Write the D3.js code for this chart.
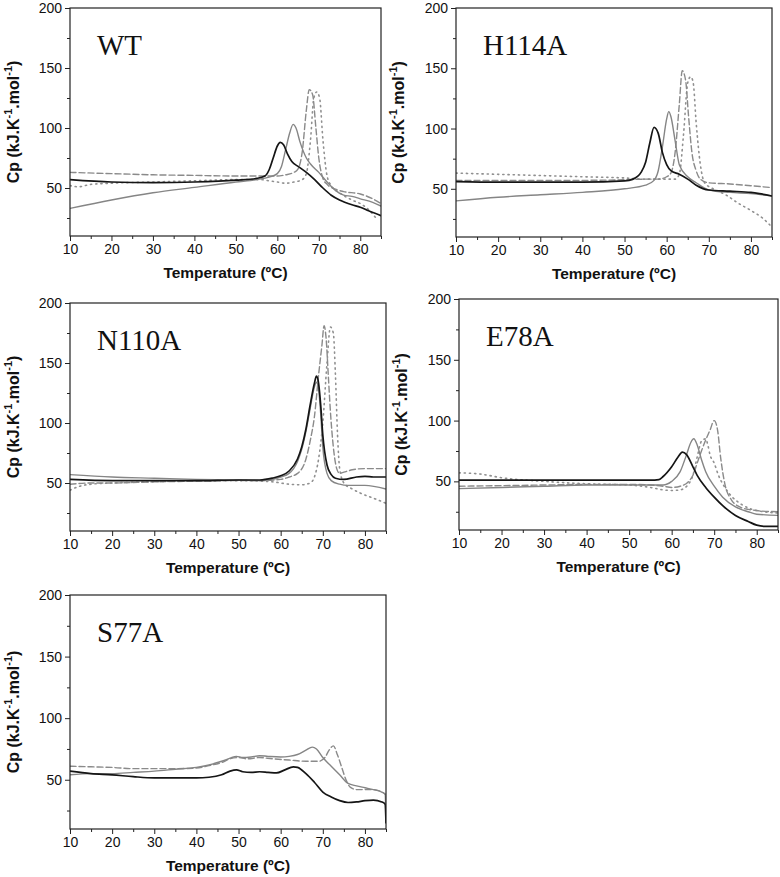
<!DOCTYPE html>
<html><head><meta charset="utf-8">
<script src="https://cdn.jsdelivr.net/npm/d3@7/dist/d3.min.js"></script>
<style>
html,body{margin:0;padding:0;background:#fff;}
svg{display:block;}
</style></head>
<body>
<svg id="chart" width="780" height="877"></svg>
<script>
// ---------- DATA (Temperature ºC, Cp kJ.K-1.mol-1) ----------
const xTicks = [10,20,30,40,50,60,70,80];
const yTicks = [50,100,150,200];
const panelNames = ["WT","H114A","N110A","E78A","S77A"];

const wtBlack  = [[10,57],[20,55],[30,54.5],[40,55],[50,56.5],[55,58],[57,60],[58,65],[59,75],[60,85],[60.7,88],[61.5,86],[62.5,78],[63.5,72],[65,68],[67,63],[69,57],[71,50],[73,44],[75,40],[78,36],[80,34],[82,31],[85,27]];
const wtGray   = [[10,33],[20,40],[30,46],[40,50.5],[50,55],[55,57],[58,59],[60,62],[61,68],[62,82],[63,96],[63.8,103],[64.5,100],[65.5,88],[67,75],[68,70],[70,63],[72,55],[74,48],[76,44],[78,43],[80,41],[83,38],[85,35]];
const wtDash   = [[10,63],[20,62],[30,61],[40,60.5],[50,60],[55,60],[60,60],[62,61],[64,63],[65,66],[66,80],[67,115],[67.7,132],[68.5,128],[69.3,100],[70,75],[71,58],[72,53],[74,49],[76,47],[80,45],[83,41],[85,37]];
const wtDot    = [[10,52],[12,51],[15,53],[20,54],[30,55],[40,56],[50,57],[56,57],[58,56],[60,55],[62,54],[64,55],[66,57],[67,62],[68,90],[68.8,125],[69.5,130],[70.2,125],[71,90],[72,60],[73,52],[75,46],[78,40],[80,37],[82,32],[84,24]];

const h114Black = [[10,56],[20,55.5],[30,55.5],[40,55.5],[50,56.5],[52,58],[54,64],[55,72],[56,88],[57,101],[58,96],[59,80],[60,70],[61,65],[63,62],[65,58],[67,53],[70,49],[75,48],[80,47],[82,46],[85,44]];
const h114Gray  = [[10,40],[20,43],[30,45],[40,47],[50,50],[55,53],[57,57],[58,65],[59,85],[60,108],[60.5,114],[61,110],[62,90],[63,70],[65,60],[67,55],[70,49],[75,47],[80,46],[85,44]];
const h114Dash  = [[10,57],[20,57],[30,57],[40,57],[50,57.5],[55,58],[58,58],[60,60],[61,63],[62,80],[63,120],[63.7,148],[64.5,140],[65.2,110],[66,80],[67,65],[68,58],[70,55],[75,54],[80,52.5],[85,51]];
const h114Dot   = [[10,63],[20,62],[30,61],[40,60],[50,59],[55,58],[60,58],[62,58],[63,62],[64,95],[65,138],[65.7,143],[66.3,138],[67,105],[68,70],[69,55],[71,50],[74,45],[77,38],[80,32],[83,25],[84.5,20]];

const n110Black = [[10,53],[20,52],[30,52],[40,52],[50,52.5],[55,52.5],[58,54],[60,56],[62,60],[64,70],[65,80],[66,95],[67,115],[68,133],[68.5,139],[69,133],[69.5,115],[70,90],[71,65],[72,57],[73,54],[75,53],[78,55],[80,55.5],[82,55],[85,55]];
const n110Gray  = [[10,57],[20,55],[30,54],[40,53],[50,52.5],[55,52],[58,53],[60,55],[62,58],[64,68],[65,78],[66,93],[67,112],[68,130],[68.5,134],[69,128],[69.5,108],[70,80],[71,58],[72,52],[74,49],[76,48],[80,48],[85,45]];
const n110Dash  = [[10,49],[15,50],[20,50],[30,51],[40,51.5],[50,52],[55,52],[60,53],[62,55],[64,58],[66,70],[67,85],[68,105],[69,140],[69.8,165],[70.3,181],[70.8,170],[71.3,140],[71.8,110],[72.5,80],[73.3,62],[74,58],[75,59],[77,61],[80,62],[85,62]];
const n110Dot   = [[10,44],[12,47],[15,49],[20,50],[30,51],[40,52],[50,52],[58,51],[62,49],[65,48.5],[67,50],[68,55],[69,70],[70,100],[71,150],[71.8,180],[72.5,175],[73,140],[73.5,90],[74,62],[75,50],[77,45],[80,40],[83,36],[85,33]];

const e78Black = [[10,51],[20,51],[30,51],[40,51],[50,51],[55,51],[57,51.5],[58,54],[60,62],[61.5,70],[62.5,74],[63.5,72],[65,62],[66,55],[68,45],[70,37],[72,30],[75,22],[78,17],[80,14],[82,13],[85,13]];
const e78Gray  = [[10,44],[20,45],[30,46],[40,47],[50,47],[55,47],[58,47],[60,50],[62,58],[63.5,72],[64.5,82],[65.2,85],[66,80],[67,68],[68,58],[70,46],[72,37],[75,29],[78,25],[80,23],[85,22]];
const e78Dash  = [[10,46],[20,46.5],[30,47],[40,47.5],[50,47.5],[55,47],[58,46],[60,45],[62,46],[64,50],[65,55],[66,65],[67,75],[68,84],[69,92],[70,100],[70.8,92],[71.5,70],[72.5,48],[74,35],[76,29],[78,27],[80,26],[85,25]];
const e78Dot   = [[10,57],[15,56],[20,53],[30,50],[40,48],[50,47],[55,45],[58,43],[60,42.5],[62,43],[64,48],[65,55],[66,70],[67,83],[68,85],[68.5,80],[69,72],[70,65],[71,55],[72,48],[74,38],[76,32],[80,26],[85,24]];

const s77Black = [[10,57],[15,55],[20,54],[25,52.5],[30,51.5],[35,51.5],[40,51.5],[43,52],[46,54],[48,57],[49.5,58],[51,56.5],[53,56],[55,56.5],[57,56],[59,55.5],[61,58],[63,60.5],[64,60],[66,55],[68,48],[70,40],[72,36],[74,33],[76,31.5],[78,32],[80,33],[82,33.5],[84,32],[84.8,30],[85,15]];
const s77Gray  = [[10,54],[15,55],[20,55],[25,56],[30,57],[35,58.5],[40,60],[43,62],[46,65],[48,67.5],[49.5,69],[51,68],[53,68.5],[55,69.5],[57,69],[60,68.5],[62,69],[64,70.5],[66,74],[67.5,76.5],[68.5,75],[70,68],[72,61],[74,54],[76,47],[78,45],[80,43.5],[82,42],[84,40],[84.8,38],[85,15]];
const s77Dash  = [[10,61],[15,60.5],[20,60],[25,59],[30,59],[35,59],[40,59.5],[43,61.5],[46,64],[48,67],[50,68],[52,67],[55,68],[58,67],[62,66],[66,65],[69,65],[70.5,68],[71.5,74],[72.5,77.5],[73.5,70],[74.5,60],[75.5,50],[76.5,44],[78,42],[80,42],[82,42],[84,40],[85,38]];

// ---------- STYLES / LAYOUT ----------
const SANS = '"Liberation Sans", Arial, sans-serif';
const SERIF = '"Liberation Serif", "Times New Roman", serif';
const styles = {
  black:{stroke:"#151515", width:1.7, dash:null},
  gray: {stroke:"#858585", width:1.4, dash:null},
  dash: {stroke:"#8a8a8a", width:1.4, dash:"6,3"},
  dot:  {stroke:"#909090", width:1.6, dash:"1.2,4"}
};
const panels = [
  {name:panelNames[0], box:[70,381,8,236],   series:[["dot",wtDot],["dash",wtDash],["gray",wtGray],["black",wtBlack]]},
  {name:panelNames[1], box:[456,772,8,237],  series:[["dot",h114Dot],["dash",h114Dash],["gray",h114Gray],["black",h114Black]]},
  {name:panelNames[2], box:[70,386,303,531], series:[["dot",n110Dot],["dash",n110Dash],["gray",n110Gray],["black",n110Black]]},
  {name:panelNames[3], box:[459,778,299,530],series:[["dot",e78Dot],["dash",e78Dash],["gray",e78Gray],["black",e78Black]]},
  {name:panelNames[4], box:[70,386,595,829], series:[["dash",s77Dash],["gray",s77Gray],["black",s77Black]]}
];

const svg = d3.select("#chart");

panels.forEach((p,i)=>{
  const [x0,x1,y0,y1] = p.box;
  const x = d3.scaleLinear().domain([10,85]).range([x0,x1]);
  const y = d3.scaleLinear().domain([10,200]).range([y1,y0]);
  const g = svg.append("g");

  const clipId = "clip"+i;
  g.append("clipPath").attr("id",clipId).append("rect")
    .attr("x",x0).attr("y",y0).attr("width",x1-x0).attr("height",y1-y0);

  const line = d3.line().x(d=>x(d[0])).y(d=>y(d[1])).curve(d3.curveMonotoneX);
  const lg = g.append("g").attr("clip-path",`url(#${clipId})`);
  p.series.forEach(([k,data])=>{
    const s = styles[k];
    lg.append("path").datum(data).attr("d",line)
      .attr("fill","none").attr("stroke",s.stroke).attr("stroke-width",s.width)
      .attr("stroke-dasharray",s.dash).attr("stroke-linejoin","round").attr("stroke-linecap","round");
  });

  const xMinor = d3.range(15,86,10);
  const yMinor = [25,75,125,175];
  const xa = g.append("g").attr("transform",`translate(0,${y1})`)
    .call(d3.axisBottom(x).tickValues(xTicks).tickSize(5).tickSizeOuter(0).tickPadding(3));
  xa.select(".domain").remove();
  xa.selectAll("text").style("font-family",SANS).style("font-size","14px").attr("fill","#111");
  xa.selectAll("line").attr("stroke","#222");
  g.append("g").attr("transform",`translate(0,${y1})`)
    .call(d3.axisBottom(x).tickValues(xMinor).tickSize(3).tickFormat(""))
    .call(a=>a.select(".domain").remove()).selectAll("line").attr("stroke","#222");

  const ya = g.append("g").attr("transform",`translate(${x0},0)`)
    .call(d3.axisLeft(y).tickValues(yTicks).tickSize(5).tickSizeOuter(0).tickPadding(3));
  ya.select(".domain").remove();
  ya.selectAll("text").style("font-family",SANS).style("font-size","14px").attr("fill","#111");
  ya.selectAll("line").attr("stroke","#222");
  g.append("g").attr("transform",`translate(${x0},0)`)
    .call(d3.axisLeft(y).tickValues(yMinor).tickSize(3).tickFormat(""))
    .call(a=>a.select(".domain").remove()).selectAll("line").attr("stroke","#222");

  g.append("rect").attr("x",x0).attr("y",y0).attr("width",x1-x0).attr("height",y1-y0)
    .attr("fill","none").attr("stroke","#222").attr("stroke-width",1.2);

  g.append("text").attr("x",x0+27).attr("y",y0+47)
    .style("font-family",SERIF).style("font-size","29px").attr("fill","#111")
    .text(p.name);

  g.append("text").attr("x",(x0+x1)/2).attr("y",y1+42).attr("text-anchor","middle")
    .style("font-family",SANS).style("font-weight","bold").style("font-size","15.5px").attr("fill","#111")
    .text("Temperature (ºC)");

  const yt = g.append("text")
    .attr("transform",`translate(${Math.max(x0-52,19)},${(y0+y1)/2}) rotate(-90)`)
    .attr("text-anchor","middle")
    .style("font-family",SANS).style("font-weight","bold").style("font-size","16px").attr("fill","#111");
  yt.append("tspan").text("Cp (kJ.K");
  yt.append("tspan").attr("dy",-7).style("font-size","11px").text("-1");
  yt.append("tspan").attr("dy",7).text(".mol");
  yt.append("tspan").attr("dy",-7).style("font-size","11px").text("-1");
  yt.append("tspan").attr("dy",7).text(")");
});
</script>
</body></html>
